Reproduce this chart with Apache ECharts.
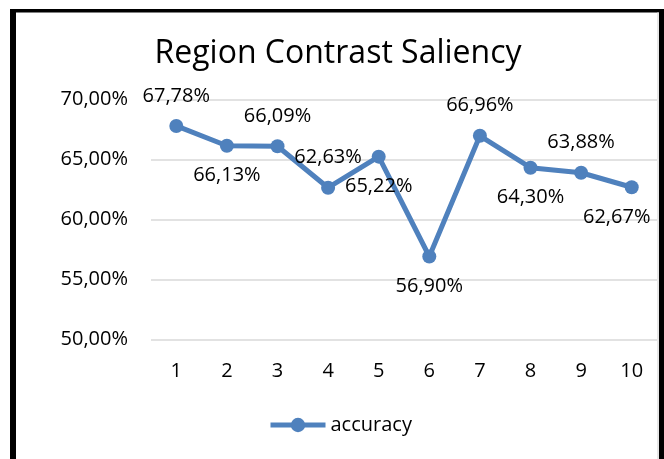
<!DOCTYPE html>
<html>
<head>
<meta charset="utf-8">
<script src="https://cdn.jsdelivr.net/npm/echarts@6/dist/echarts.min.js"></script>
<style>
html,body{margin:0;padding:0;background:#fff;}
#chart{width:664px;height:459px;}
</style>
</head>
<body>
<div id="chart"></div>
<script>
// ---- data ----
const categories = ['1','2','3','4','5','6','7','8','9','10'];
const accuracy = [67.78, 66.13, 66.09, 62.63, 65.22, 56.90, 66.96, 64.30, 63.88, 62.67];
const seriesName = 'accuracy';
const titleText = 'Region Contrast Saliency';
const yTicks = [50, 55, 60, 65, 70];

// label placement (style only)
const labelPlace = ['top','bottom','top','top','bottom','bottom','top','bottom','top','bottom'];
const labelShift = [0,0,0,0,0,0,0,0,0,-15];

const FONT = '"Open Sans", sans-serif';
const BLUE = '#4f81bd';

function fmt(v){ return v.toFixed(2).replace('.', ',') + '%'; }

const chart = echarts.init(document.getElementById('chart'), null, {renderer:'canvas'});
chart.setOption({
  animation:false,
  backgroundColor:'#ffffff',
  title:{
    text:titleText,
    left:333, top:33, textAlign:'center',
    textStyle:{fontFamily:FONT, fontSize:32, fontWeight:'normal', color:'#000'}
  },
  legend:{
    data:[{name:seriesName}],
    left:268, top:415, padding:0,
    itemWidth:55, itemHeight:18, itemGap:5,
    lineStyle:{width:5, color:BLUE},
    itemStyle:{color:BLUE},
    textStyle:{fontFamily:FONT, fontSize:20, color:'#000', padding:[0,0,0,0]}
  },
  grid:{left:151, right:7, top:99.3, bottom:119.7, containLabel:false},
  xAxis:{
    type:'category', data:categories, boundaryGap:true,
    axisLine:{show:false}, axisTick:{show:false},
    axisLabel:{fontFamily:FONT, fontSize:20, color:'#000', margin:22}
  },
  yAxis:{
    type:'value', min:yTicks[0], max:yTicks[yTicks.length-1], interval:5,
    axisLine:{show:false}, axisTick:{show:false},
    splitLine:{lineStyle:{color:'#d9d9d9', width:1.5}},
    axisLabel:{fontFamily:FONT, fontSize:20, color:'#000', margin:23,
      formatter:function(v){ return fmt(v); }}
  },
  series:[{
    name:seriesName, type:'line',
    data:accuracy.map(function(v,i){
      return {value:v, label:{position:labelPlace[i], offset:[labelShift[i],0]}};
    }),
    symbol:'circle', symbolSize:14,
    lineStyle:{color:BLUE, width:5},
    itemStyle:{color:BLUE},
    label:{show:true, distance:13, fontFamily:FONT, fontSize:20, color:'#000',
      formatter:function(p){ return fmt(p.value); }}
  }],
  graphic:[
    {type:'rect', shape:{x:10, y:9, width:6, height:460}, style:{fill:'#000'}, silent:true},
    {type:'rect', shape:{x:10, y:9, width:660, height:3.5}, style:{fill:'#000'}, silent:true},
    {type:'rect', shape:{x:659, y:9, width:10, height:460}, style:{fill:'#000'}, silent:true},
    {type:'rect', shape:{x:657.5, y:12, width:1, height:460}, style:{fill:'#d0d0d0'}, silent:true}
  ]
});
</script>
</body>
</html>
